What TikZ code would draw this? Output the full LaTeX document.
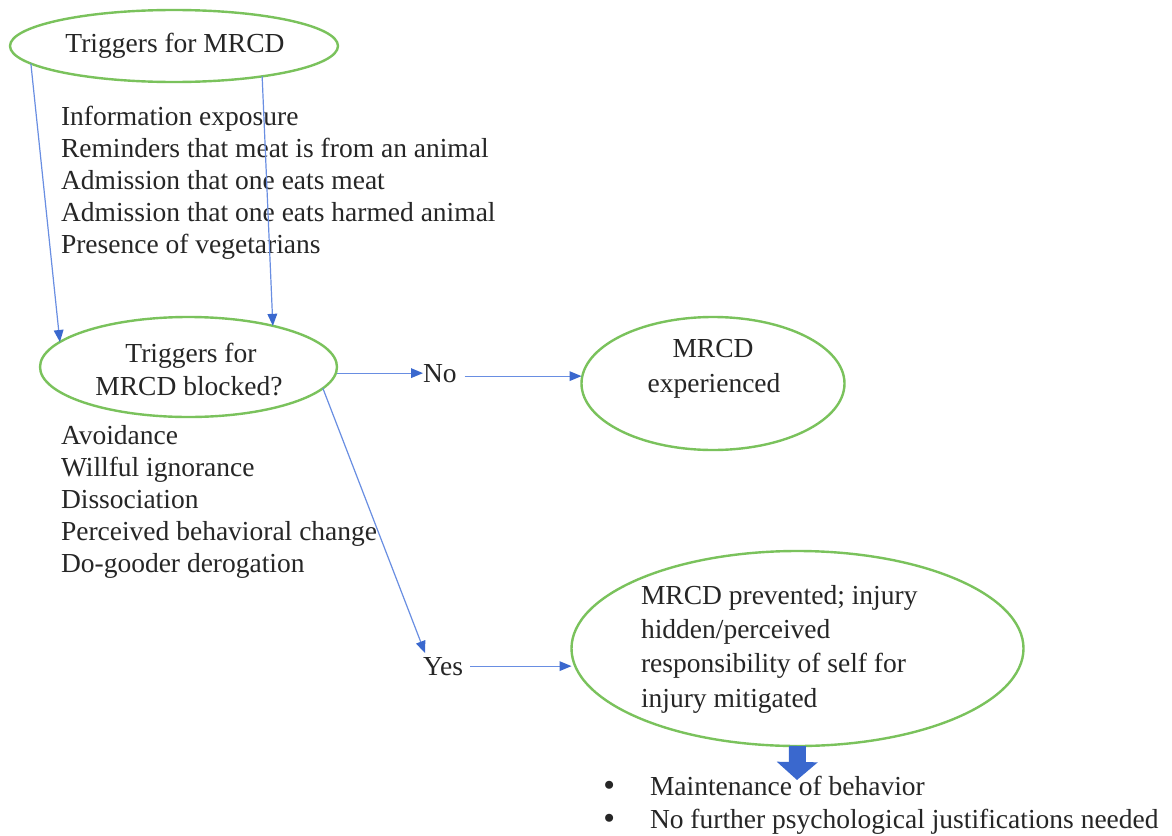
\documentclass[tikz,border=0pt]{standalone}
\usepackage{fontspec}
\setmainfont{Liberation Serif}
\newfontfamily\dejavu{DejaVu Sans}
\usetikzlibrary{shapes.geometric,arrows.meta,calc}
\definecolor{ellgreen}{RGB}{122,194,92}
\definecolor{linblue}{RGB}{105,142,226}
\definecolor{tipblue}{RGB}{58,104,206}
\newcommand{\bigbul}{{\dejavu •}}
\tikzset{
  ell/.style={ellipse,draw=ellgreen,line width=2.4pt,inner sep=0pt,outer sep=0pt},
  txt/.style={inner sep=0pt,outer sep=0pt,anchor=base west,font=\fontsize{27.5}{32}\selectfont,text=black!85},
  ctxt/.style={txt,anchor=base},
  conn/.style={draw=linblue,line width=1.2pt,-{Triangle[length=12pt,width=10pt,fill=tipblue,line width=0pt]}},
  fatarrow/.style={draw=tipblue,line width=17pt,-{Triangle[length=18pt,width=40pt,fill=tipblue]}}
}
\begin{document}
\begin{tikzpicture}[x=1pt,y=-1pt]
\useasboundingbox[fill=white] (0,0) rectangle (1172,835);
% ellipses
\node[ell,minimum width=328pt,minimum height=72pt] (e1) at (174,46) {};
\node[ell,minimum width=297pt,minimum height=100pt] (e2) at (188.5,367) {};
\node[ell,minimum width=263pt,minimum height=133pt] (e3) at (713,383.5) {};
\node[ell,minimum width=452pt,minimum height=195pt] (e4) at (797.5,648.5) {};
% ellipse texts
\node[ctxt] (t1) at (175,52) {Triggers for MRCD};
\node[ctxt] (t2a) at (191,362) {Triggers for};
\node[ctxt] (t2b) at (189,395) {MRCD blocked?};
\node[ctxt] (t3a) at (713,357) {MRCD};
\node[ctxt] (t3b) at (714,392) {experienced};
\node[txt] (t4a) at (641,604) {MRCD prevented; injury};
\node[txt] (t4b) at (641,638) {hidden/perceived};
\node[txt] (t4c) at (641,672.5) {responsibility of self for};
\node[txt] (t4d) at (641,707) {injury mitigated};
% lists
\node[txt] (l1) at (61,125) {Information exposure};
\node[txt] (l2) at (61,157) {Reminders that meat is from an animal};
\node[txt] (l3) at (61,189) {Admission that one eats meat};
\node[txt] (l4) at (61,221) {Admission that one eats harmed animal};
\node[txt] (l5) at (61,253) {Presence of vegetarians};
\node[txt] (m1) at (61,444) {Avoidance};
\node[txt] (m2) at (61,476) {Willful ignorance};
\node[txt] (m3) at (61,508) {Dissociation};
\node[txt] (m4) at (61,540) {Perceived behavioral change};
\node[txt] (m5) at (61,572) {Do-gooder derogation};
% labels
\node[txt] (no) at (423,382) {No};
\node[txt] (yes) at (423,675) {Yes};
% bullets
\node[txt] (b1) at (601,795) {\makebox[49pt][l]{\bigbul}Maintenance of behavior};
\node[txt] (b2) at (601,828) {\makebox[49pt][l]{\bigbul}No further psychological justifications needed};
% connectors
\draw[conn] (e1.187.7) -- (e2.169);
\draw[conn] (e1.341) -- (e2.26);
\draw[conn] (no.west -| e2.east) -- (no.west);
\draw[conn,shorten <=8pt] ([yshift=-3pt]no.east) -- ([yshift=-3pt]no.east -| e3.west);
\draw[conn] (e2.351.4) -- ([xshift=2pt,yshift=4pt]yes.north west);
\draw[conn,shorten <=7pt] (yes.east) -- (yes.east -| e4.west);
\coordinate (tip) at (797,780);
\draw[fatarrow] (e4.south) -- (tip);
\end{tikzpicture}
\end{document}
